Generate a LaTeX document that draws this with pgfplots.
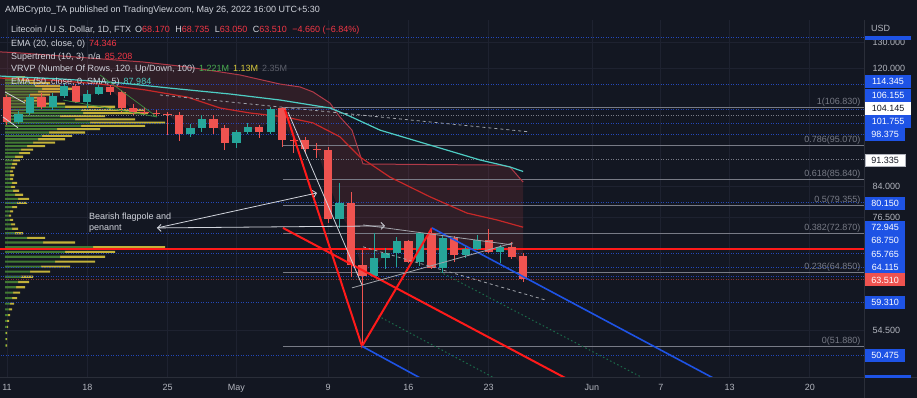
\documentclass[border=0pt]{standalone}
\usepackage{pgfplots}
\pgfplotsset{compat=1.18}
\usepackage{pgfplotstable}
\usepackage{fontspec}
\setmainfont{Liberation Sans}
\usetikzlibrary{arrows.meta}
\definecolor{bg}{HTML}{131722}
\definecolor{gridc}{HTML}{1E2230}
\definecolor{sepc}{HTML}{2A2E39}
\definecolor{txt}{HTML}{B2B5BE}
\definecolor{txtw}{HTML}{D1D4DC}
\definecolor{upc}{HTML}{26A69A}
\definecolor{dnc}{HTML}{EF5350}
\definecolor{bblue}{HTML}{1E53E5}
\definecolor{dblue}{HTML}{2448B8}
\definecolor{fibc}{HTML}{787B86}
\definecolor{ema20}{HTML}{C62828}
\definecolor{ema50}{HTML}{4ECDC4}
\definecolor{stc}{HTML}{B03A48}
\definecolor{redl}{HTML}{FF1A1A}
\definecolor{vgreen}{HTML}{437A33}
\definecolor{vyellow}{HTML}{C2B23A}
\definecolor{valred}{HTML}{F23645}
\definecolor{valgreen}{HTML}{4CAF50}
\definecolor{valyel}{HTML}{D8C93A}
\definecolor{dotg}{HTML}{1B6B4A}
\definecolor{dimtxt}{HTML}{5D606B}
\definecolor{stfill}{HTML}{FF5252}
\newcommand{\tvf}{\fontsize{9}{11}\selectfont}

\pgfplotstableread{
d o h l c
1 102.2 105.6 101.6 104.7
2 105.0 111.2 104.4 110.2
4 106.9 111.55 106.0 110.5
5 110.5 115.0 109.9 114.0
7 108.55 112.6 106.6 111.2
8 111.2 114.3 110.9 113.6
16 98.6 101.6 97.7 100.4
17 100.4 104.4 99.2 103.1
20 95.9 99.7 94.5 99.2
21 99.2 101.9 98.6 100.7
23 99.2 106.9 98.6 106.3
29 76.2 85.0 74.2 80.0
32 64.18 73.1 64.0 67.76
33 67.76 69.85 65.5 68.8
34 68.8 72.2 65.95 71.3
36 66.95 73.3 66.2 73.1
38 65.75 72.4 64.76 71.99
40 68.4 70.5 67.76 69.6
41 69.6 72.65 69.3 71.5
43 69.0 70.5 66.75 70.1
}\uptab

\pgfplotstableread{
d o h l c
0 110.2 110.9 101.3 102.2
3 110.2 111.55 106.3 106.9
6 114.0 114.6 108.2 108.55
9 113.6 114.3 110.9 111.9
10 111.9 112.6 105.3 106.6
11 106.6 107.8 104.4 105.3
12 105.3 106.9 104.4 104.9
13 105.0 106.0 104.0 104.6
14 104.7 105.3 98.25 104.4
15 104.4 105.3 96.5 98.6
18 103.1 104.4 98.6 100.4
19 100.4 101.3 93.9 95.9
22 100.7 101.3 97.4 99.2
24 106.6 106.9 94.8 96.8
25 96.8 98.6 93.1 96.5
26 96.8 97.7 93.1 94.2
27 94.3 95.9 91.7 94.0
28 93.9 94.8 75.3 76.2
30 80.0 82.7 64.0 66.35
31 66.35 69.3 51.88 64.18
35 71.3 71.5 66.75 66.95
37 73.1 74.2 65.55 65.75
39 71.99 72.4 66.95 68.4
42 71.5 74.0 68.8 69.0
44 70.1 71.1 67.6 67.96
45 68.17 68.735 63.05 63.51
}\dntab

\pgfplotstableread{
p g yl
117 11 9
116 16 14
115 25 20
114 30 25
113 37 30
112 33 27
111 25 20
110 22 18
109 19 16
108 33 27
107 60 50
106 76 64
105 78 65
104 55 45
103 70 60
102 85 75
101 76 64
100 52 43
99 44 36
98 37 30
97 33 27
96 28 22
95 22 18
94 16 12
93 14 11
92 10 8
91 8 7
90 7 5
89 6 4
88 5 3
87 5 4
86 5 3
85 7 5
84 6 4
83 8 6
82 10 8
81 13 11
80 12 10
79 7 5
78 5 3
77 4 2
76 5 3
75 6 4
74 7 6
73 10 8
72 22 18
71 38 32
70 88 72
69 60 50
68 55 45
67 50 40
66 36 29
65 25 20
64 16 12
63 13 11
62 11 9
61 8 7
60 7 5
59 5 4
58 4 3
57 3 2
56 2 2
55 2 1
54 1 1
53 1 1
52 1 1
}\vrvp

\begin{document}
\begin{tikzpicture}
\path[use as bounding box] (0,0) rectangle (917pt,398pt);
\fill[bg] (0,0) rectangle (917pt,398pt);

% grid and tick labels
\begin{axis}[at={(0pt,20pt)}, anchor=south west, scale only axis,
  width=864pt, height=358pt, xmin=-0.61, xmax=74.72,
  ymode=log, ymin=47.13, ymax=139.1,
  axis line style={draw=none},
  xtick={0,7,14,20,28,35,42,51,57,63,70},
  xticklabels={11,18,25,May,9,16,23,Jun,7,13,20},
  ytick={54.5,76.5,84,120,130},
  yticklabels={54.500,76.500,84.000,120.000,130.000},
  yticklabel pos=right, major tick length=0pt,
  xmajorgrids, ymajorgrids, grid style={gridc, line width=0.8pt},
  tick label style={font=\tvf, text=txt},
  yticklabel style={anchor=west, xshift=5pt},
  xticklabel style={yshift=-2.5pt}]
\addplot[draw=none] coordinates {(0,100)};
\end{axis}

% volume profile
\begin{axis}[at={(0pt,20pt)}, anchor=south west, scale only axis,
    width=864pt, height=358pt, xmin=-5, xmax=859,
    ymode=log, ymin=47.13, ymax=139.1, hide axis,
    xbar stacked, bar width=2.1pt]
\addplot[fill=vgreen, draw=none] table[x=g, y=p] {\vrvp};
\addplot[fill=vyellow, draw=none] table[x=yl, y=p] {\vrvp};
\end{axis}

% main chart
\begin{axis}[at={(0pt,20pt)}, anchor=south west, scale only axis,
  width=864pt, height=358pt, xmin=-0.61, xmax=74.72,
  ymode=log, ymin=47.13, ymax=139.1, hide axis]
% supertrend fill to body middle
\addplot[fill=stfill, fill opacity=0.12, draw=none] coordinates {
(-0.61,126.3) (1.13,125.9) (4.62,124.8) (11.86,122.5) (15.69,120.7) (20.31,117.8)
(23.8,114.6) (25.55,113.6) (26.68,111.9) (28.16,108.2) (29.03,103.75) (30.08,99.7)
(31.04,90.0) (42.98,89.7) (43.85,89.2) (45,85.21)
(45,65.84) (44,69.0) (43,69.55) (42,70.25) (41,70.55) (40,69.0) (39,70.2) (38,68.9)
(37,69.4) (36,70.0) (35,69.1) (34,70.05) (33,68.3) (32,65.97) (31,65.3) (30,73.2)
(29,78.1) (28,85.05) (27,94.1) (26,95.5) (25,96.65) (24,101.7) (23,102.75) (22,99.95)
(21,99.95) (20,97.55) (19,98.15) (18,101.75) (17,101.75) (16,99.5) (15,101.5)
(14,104.6) (13,104.85) (12,105.15) (11,105.95) (10,109.25) (9,112.75) (8,112.4)
(7,109.9) (6,111.3) (5,112.25) (4,108.7) (3,108.55) (2,107.6) (1,103.45) (0,106.2) (-0.61,106.2)
} -- cycle;

% horizontal price rays
\pgfplotsinvokeforeach{132.1,114.345,106.155,101.755,98.375,80.15,72.945,68.75,65.765,64.115,59.31,50.475}{
  \addplot[dblue, line width=0.8pt, dash pattern=on 1pt off 1.5pt] coordinates {(-1,#1) (76,#1)};
}
\pgfplotsinvokeforeach{104.145,91.335}{
  \addplot[fibc, line width=0.8pt, dash pattern=on 1pt off 1.5pt] coordinates {(-1,#1) (76,#1)};
}
\addplot[dnc!60!black, line width=0.8pt, dash pattern=on 1pt off 1.5pt] coordinates {(-1,63.51) (76,63.51)};

% fibonacci levels
\pgfplotsinvokeforeach{106.83,95.07,85.84,79.355,72.87,64.85,51.88}{
  \addplot[fibc, line width=0.9pt] coordinates {(24.06,#1) (76,#1)};
}
\node[anchor=south east, inner sep=1pt, font=\tvf, text=fibc] at (axis cs:74.5,106.83) {1(106.830)};
\node[anchor=south east, inner sep=1pt, font=\tvf, text=fibc] at (axis cs:74.5,95.07) {0.786(95.070)};
\node[anchor=south east, inner sep=1pt, font=\tvf, text=fibc] at (axis cs:74.5,85.84) {0.618(85.840)};
\node[anchor=south east, inner sep=1pt, font=\tvf, text=fibc] at (axis cs:74.5,79.355) {0.5(79.355)};
\node[anchor=south east, inner sep=1pt, font=\tvf, text=fibc] at (axis cs:74.5,72.87) {0.382(72.870)};
\node[anchor=south east, inner sep=1pt, font=\tvf, text=fibc] at (axis cs:74.5,64.85) {0.236(64.850)};
\node[anchor=south east, inner sep=1pt, font=\tvf, text=fibc] at (axis cs:74.5,51.88) {0(51.880)};

% support line
\addplot[redl, line width=2pt] coordinates {(-1,69.62) (76,69.62)};

% indicators
\addplot[stc, line width=1pt] coordinates {
(-0.61,126.3) (1.13,125.9) (4.62,124.8) (11.86,122.5) (15.69,120.7) (20.31,117.8)
(23.8,114.6) (25.55,113.6) (26.68,111.9) (28.16,108.2) (29.03,103.75) (30.08,99.7)
(31.04,90.0) (42.98,89.7) (43.85,89.2) (45,85.21)};
\addplot[ema20, line width=1.2pt] coordinates {
(-0.61,116.7) (3.75,116.0) (8.11,114.6) (12.03,112.6) (15.69,110.2) (18.57,106.6)
(21.19,105.0) (24.24,103.75) (26.68,101.9) (29.03,97.7) (30.78,91.9) (33.39,86.5)
(36.88,81.5) (40.10,77.6) (42.72,76.0) (45,74.35)};
\addplot[ema50, line width=1.2pt] coordinates {
(-0.61,117.4) (4.62,116.4) (9.85,115.0) (14.21,113.2) (19.44,111.2) (23.8,109.2)
(28.16,106.6) (29.64,104.4) (32.52,99.7) (36.88,95.3) (41.24,91.1) (43.85,89.2) (45,87.98)};

% candles: wicks
\addplot[draw=none, mark=none, error bars/.cd, y dir=plus, y explicit, error mark=none,
  error bar style={draw=upc, line width=1pt}]
  table[x=d, y=l, y error expr=\thisrow{h}-\thisrow{l}] {\uptab};
\addplot[draw=none, mark=none, error bars/.cd, y dir=plus, y explicit, error mark=none,
  error bar style={draw=dnc, line width=1pt}]
  table[x=d, y=l, y error expr=\thisrow{h}-\thisrow{l}] {\dntab};
% candles: bodies
\addplot[draw=none, mark=none, error bars/.cd, y dir=plus, y explicit, error mark=none,
  error bar style={draw=upc, line width=8.3pt}]
  table[x=d, y=o, y error expr=\thisrow{c}-\thisrow{o}] {\uptab};
\addplot[draw=none, mark=none, error bars/.cd, y dir=plus, y explicit, error mark=none,
  error bar style={draw=dnc, line width=8.3pt}]
  table[x=d, y=c, y error expr=\thisrow{o}-\thisrow{c}] {\dntab};

% drawings
\addplot[dotg, line width=1pt, dash pattern=on 1.5pt off 2.5pt] coordinates {(32.35,56.86) (44.73,45.21)};
\addplot[dotg, line width=1pt, dash pattern=on 1.5pt off 2.5pt] coordinates {(37.75,64.97) (60.42,43.07)};
\addplot[redl, line width=2pt] coordinates {(24.24,105.96) (30.95,51.88) (37.05,74.19)};
\addplot[redl, line width=2pt] coordinates {(24.06,74.19) (53.44,43.17)};
\addplot[bblue, line width=1.6pt] coordinates {(37.05,74.19) (65.65,43.7)};
\addplot[bblue, line width=1.6pt] coordinates {(30.95,51.88) (39.49,44.14)};
\addplot[txtw, line width=0.8pt] coordinates {(24.5,105.3) (30.95,62.45)};
\addplot[fibc!70!white, line width=0.8pt] coordinates {(30.08,61.89) (44.12,70.89)};
\addplot[fibc!70!white, line width=0.8pt] coordinates {(31.04,74.87) (44.03,70.48)};
\addplot[fibc!70!white, line width=0.8pt, dash pattern=on 3pt off 3pt] coordinates {(31.04,70.07) (46.9,59.69)};
\addplot[fibc!70!white, line width=0.8pt, dash pattern=on 3pt off 3pt] coordinates {(13.34,110.87) (45.6,99.16)};
\addplot[txtw, line width=0.8pt] coordinates {(-0.17,111.9) (1.57,108.2)};
\addplot[txtw, line width=0.8pt] coordinates {(-0.35,103.75) (0.96,100.4)};
\addplot[valgreen!80!black, line width=0.7pt] coordinates {(8.11,117.8) (13.08,103.75)};
\addplot[valgreen!80!black, line width=0.7pt] coordinates {(4.88,109.2) (13.08,103.75)};
\addplot[txtw, line width=0.8pt, {Straight Barb[length=3.5pt]}-{Straight Barb[length=3.5pt]}] coordinates {(13.08,74.19) (32.96,74.65)};
\addplot[txtw, line width=0.8pt, -{Straight Barb[length=3.5pt]}] coordinates {(13.08,74.19) (27.03,82.45)};
\end{axis}

% overlay text in pixel coordinates
\begin{scope}[x=1pt, y=-1pt, shift={(0pt,398pt)}]
\draw[sepc, line width=1pt] (864,20) -- (864,398);
\draw[sepc, line width=1pt] (0,378) -- (917,378);
\node[anchor=west, inner sep=0, font=\tvf, text=txtw] at (5,10) {AMBCrypto\_TA published on TradingView.com, May 26, 2022 16:00 UTC+5:30};
\node[anchor=west, inner sep=0, font=\tvf, text=txtw] at (11,30) {Litecoin / U.S. Dollar, 1D, FTX\hspace{4pt}O\textcolor{valred}{68.170}\hspace{3pt} H\textcolor{valred}{68.735}\hspace{3pt} L\textcolor{valred}{63.050}\hspace{3pt} C\textcolor{valred}{63.510}\hspace{3pt} \textcolor{valred}{−4.660 (−6.84\%)}};
\node[anchor=west, inner sep=0, font=\tvf, text=txtw] at (11,44) {EMA (20, close, 0)\hspace{4pt}\textcolor{valred}{74.346}};
\node[anchor=west, inner sep=0, font=\tvf, text=txtw] at (11,57) {Supertrend (10, 3)\hspace{4pt}n/a\hspace{4pt}\textcolor{valred}{85.208}};
\node[anchor=west, inner sep=0, font=\tvf, text=txtw] at (11,69.5) {VRVP (Number Of Rows, 120, Up/Down, 100)\hspace{4pt}\textcolor{valgreen}{1.221M}\hspace{4pt}\textcolor{valyel}{1.13M}\hspace{4pt}\textcolor{dimtxt}{2.35M}};
\node[anchor=west, inner sep=0, font=\tvf, text=txtw] at (11,82) {EMA (50, close, 0, SMA, 5)\hspace{4pt}\textcolor{ema50}{87.984}};
\node[anchor=north west, inner sep=0, font=\tvf, text=txtw, align=left] at (89,212.5) {Bearish flagpole and\\penannt};
\node[anchor=west, inner sep=0, font=\tvf, text=txt] at (871,28) {USD};
% badges
\fill[bblue] (865,36.5) rectangle (910.7,40.5);
\fill[bblue] (865,375) rectangle (910.7,378);
\foreach \y/\t in {81.7/114.345, 95.7/106.155, 121.7/101.755}{
  \node[fill=bblue, text=white, font=\tvf, anchor=west, minimum width=45.7pt, minimum height=12.5pt, inner sep=0] at (865,\y) {\t};
}
\foreach \y/\t in {134.7/98.375, 203.3/80.150, 227.7/72.945, 240.7/68.750, 254/65.765, 267/64.115, 302.7/59.310, 355.7/50.475}{
  \node[fill=bblue, text=white, font=\tvf, anchor=west, minimum width=40pt, minimum height=13pt, inner sep=0] at (865,\y) {\t};
}
\node[fill=white, text=bg, font=\tvf, anchor=west, minimum width=45.7pt, minimum height=12.5pt, inner sep=0] at (865,108.7) {104.145};
\node[fill=white, draw=txt, text=bg, font=\tvf, anchor=west, minimum width=40pt, minimum height=12pt, inner sep=0] at (865,160) {91.335};
\node[fill=dnc, text=white, font=\tvf, anchor=west, minimum width=40pt, minimum height=13pt, inner sep=0] at (865,280) {63.510};
\end{scope}
\end{tikzpicture}
\end{document}
